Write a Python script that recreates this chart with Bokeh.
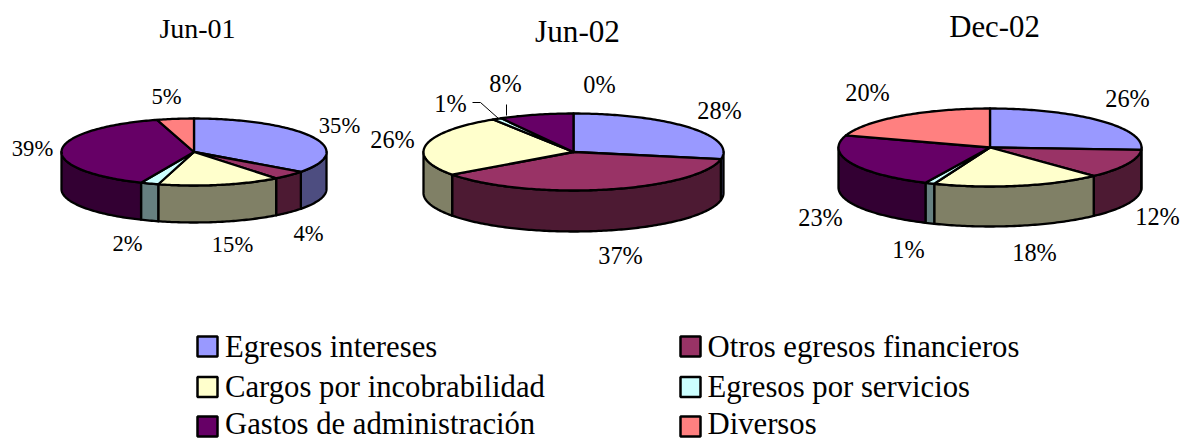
import math
from bokeh.plotting import figure
from bokeh.models import ColumnDataSource, Range1d
from bokeh.core.properties import value
from bokeh.embed import file_html
from bokeh.resources import INLINE

# ---------- data ----------
categories = ["Egresos intereses", "Otros egresos financieros", "Cargos por incobrabilidad",
              "Egresos por servicios", "Gastos de administración", "Diversos"]
titles = ["Jun-01", "Jun-02", "Dec-02"]
jun01 = [35.1, 4.3, 15.0, 2.2, 39.0, 4.5]
jun02 = [28, 37, 26, 1, 8, 0]
dec02 = [26, 12, 18, 1, 23, 20]
series = [jun01, jun02, dec02]

# ---------- style / layout ----------
top_colors = ["#9999FF", "#993366", "#FFFFCC", "#CCFFFF", "#660066", "#FF8080"]
side_colors = ["#4D4D80", "#4D1A33", "#808066", "#668080", "#330033", "#804040"]
FONT = value("Liberation Serif")
geometry = [  # cx, cy, rx, ry, depth
    (193.5, 151.5, 132.5, 33.5, 37),
    (573, 151.5, 150, 38.5, 41),
    (989.5, 147, 151.5, 39, 40),
]
label_pos = [
    [(339, 125), (308, 233), (232, 244), (127, 243), (32, 148), (166, 96)],
    [(719, 110), (620, 255), (392, 139), (450, 103), (505, 83), (599, 84)],
    [(1127, 98), (1157, 216), (1034, 252), (908, 249), (820, 217), (867, 92)],
]
label_sizes = ["22.6px", "24.3px", "24.3px"]
title_pos = [(197, 28), (577, 31), (994, 26)]
title_sizes = ["28px", "31.2px", "30.8px"]
LEGEND_SIZE = "30.7px"
EDGE = 2.3

p = figure(width=1182, height=439, output_backend="svg", toolbar_location=None,
           x_range=Range1d(0, 1182), y_range=Range1d(439, 0), min_border=0)
p.axis.visible = False
p.grid.visible = False
p.outline_line_color = None


def pt(g, deg, drop=0.0):
    cx, cy, rx, ry, _ = g
    r = math.radians(deg)
    return cx + rx * math.sin(r), cy - ry * math.cos(r) + drop


def arc(g, a, b, drop=0.0):
    n = max(2, int(abs(b - a)) + 2)
    return [pt(g, a + (b - a) * i / (n - 1), drop) for i in range(n)]


for vals, g in zip(series, geometry):
    total = sum(vals)
    cum = 0.0
    bounds = []
    for v in vals:
        bounds.append((cum * 360 / total, (cum + v) * 360 / total))
        cum += v
    # visible rim (front half of the disc)
    sx, sy, sc = [], [], []
    for (a, b), c in zip(bounds, side_colors):
        s, e = max(a, 90), min(b, 270)
        if e <= s:
            continue
        poly = arc(g, s, e) + arc(g, e, s, g[4])
        sx.append([q[0] for q in poly])
        sy.append([q[1] for q in poly])
        sc.append(c)
    p.patches("x", "y", fill_color="c", line_color="black", line_width=EDGE, line_join="round",
              source=ColumnDataSource(dict(x=sx, y=sy, c=sc)))
    # top faces
    tx, ty, tc = [], [], []
    for (a, b), c, v in zip(bounds, top_colors, vals):
        if v == 0:
            continue
        poly = [(g[0], g[1])] + arc(g, a, b)
        tx.append([q[0] for q in poly])
        ty.append([q[1] for q in poly])
        tc.append(c)
    p.patches("x", "y", fill_color="c", line_color="black", line_width=EDGE, line_join="round",
              source=ColumnDataSource(dict(x=tx, y=ty, c=tc)))

# percent labels
for vals, pos, size in zip(series, label_pos, label_sizes):
    p.text([q[0] for q in pos], [q[1] for q in pos], text=[f"{int(v + 0.5)}%" for v in vals],
           text_font=FONT, text_font_size=value(size), text_color="black",
           text_align="center", text_baseline="middle")

# titles
for name, (x, y), size in zip(titles, title_pos, title_sizes):
    p.text([x], [y], text=[name], text_font=FONT, text_font_size=value(size),
           text_color="black", text_align="center", text_baseline="middle")

# leader lines of the small Jun-02 slices
p.line([472, 480, 498], [102, 102, 118], line_color="black", line_width=1)
p.line([506, 506], [104, 115], line_color="black", line_width=1)

# legend
leg_x = [207, 690]
leg_y = [346, 386.5, 426]
leg_text_y = [346, 386.5, 423]
leg_tx = [224.5, 707]
for i, (name, c) in enumerate(zip(categories, top_colors)):
    col, row = i % 2, i // 2
    p.rect([leg_x[col]], [leg_y[row]], width=20, height=20, fill_color=c, line_color="black",
           line_width=2.5)
    p.text([leg_tx[col]], [leg_text_y[row]], text=[name], text_font=FONT,
           text_font_size=value(LEGEND_SIZE), text_color="black", text_align="left",
           text_baseline="middle")

open("out.html", "w").write(file_html(p, INLINE))
